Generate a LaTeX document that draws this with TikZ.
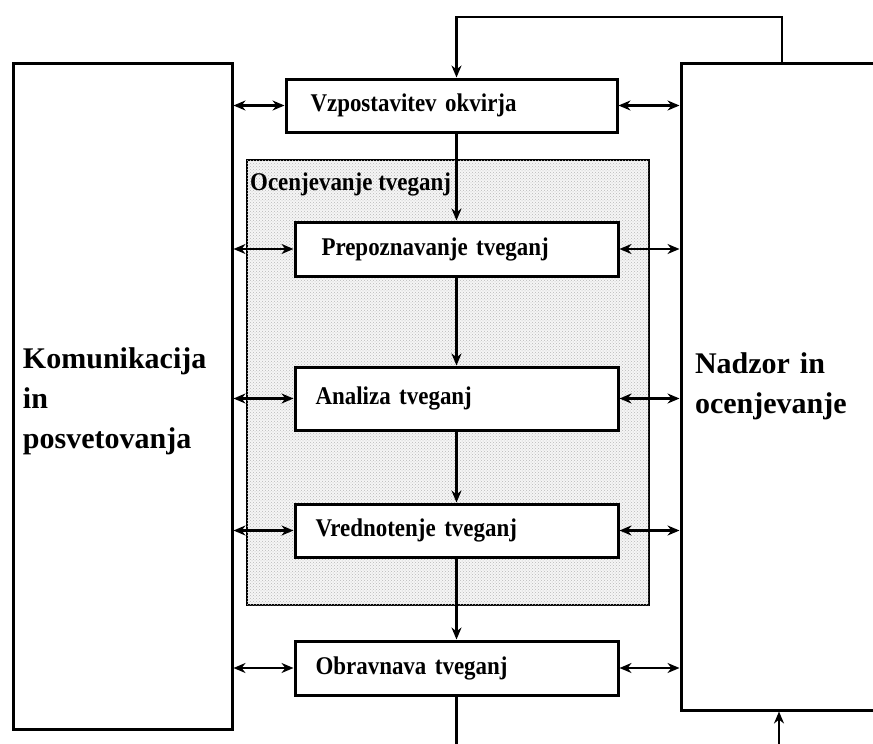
\documentclass[tikz,border=0pt]{standalone}
\usepackage{fontspec}
\setmainfont{Liberation Serif}
\newfontfamily\ozkafont[FakeStretch=0.9]{Liberation Serif}
\usetikzlibrary{arrows.meta, positioning, patterns}

\begin{document}
\begin{tikzpicture}[x=1pt, y=-1pt, >={Stealth[length=12pt,width=10pt]},
    vez/.style={line width=2.4pt},
    stran/.style={draw, line width=3pt, align=left, inner sep=0pt, font=\fontsize{30}{40}\selectfont\bfseries},
    korak/.style={draw, line width=3pt, fill=white, minimum width=323pt, minimum height=54pt,
                  text width=282pt, align=left, inner sep=0pt, font=\ozkafont\fontsize{25.5}{28}\selectfont\bfseries}]

      \clip (0,0) rectangle (873,744);

      % ocenjevanje (sivo polje)
      \draw[line width=2.6pt, fill=gray!8, postaction={pattern=crosshatch dots, pattern color=gray!55}]
            (247,160) rectangle (649,605);
      \node[anchor=base west, inner sep=0pt, font=\ozkafont\fontsize{25.5}{28}\selectfont\bfseries] (ocen) at (250,190) {Ocenjevanje tveganj};

      \node[stran, minimum width=219pt, minimum height=666pt, text width=199pt] (komun) at (122.5,396) {\rule{0pt}{31pt}Komunikacija\\in\\posvetovanja};
      \node[stran, minimum width=199pt, minimum height=647pt, text width=171pt] (nadzor) at (780.5,386.5) {Nadzor in\\ocenjevanje};

      \node[korak, minimum width=331pt, minimum height=53pt] (okvir) at (451.5,105.5) {Vzpostavitev okvirja};
      \node[korak] (prepoz) at (456.5,249) {\hspace*{6pt}Prepoznavanje tveganj};
      \node[korak, minimum height=63pt] (analiza) [below=88pt of prepoz] {Analiza tveganj};
      \node[korak, minimum height=53pt] (vredn) [below=71pt of analiza] {Vrednotenje tveganj};
      \node[korak] (obrav) [below=81pt of vredn] {Obravnava tveganj};

      \coordinate (obrat) at (782,17);
      \coordinate (dno) at (456.5,750);
      \coordinate (dnoR) at (779,750);

      \path[->, vez]
      (okvir.south -| prepoz.north) edge (prepoz.north)
      (prepoz) edge (analiza)
      (analiza) edge (vredn)
      (vredn) edge (obrav)
      (dnoR) edge (dnoR |- nadzor.south)
      ;

      \path[<->, vez]
      (komun.east |- okvir) edge (okvir.west)
      (okvir.east) edge (nadzor.west |- okvir)
      (komun.east |- prepoz) edge (prepoz.west)
      (prepoz.east) edge (nadzor.west |- prepoz)
      (komun.east |- analiza) edge (analiza.west)
      (analiza.east) edge (nadzor.west |- analiza)
      (komun.east |- vredn) edge (vredn.west)
      (vredn.east) edge (nadzor.west |- vredn)
      (komun.east |- obrav) edge (obrav.west)
      (obrav.east) edge (nadzor.west |- obrav)
      ;

      % povratna zanka
      \draw[->, line width=2.8pt] (obrat |- nadzor.north) -- (obrat) -| (okvir.north -| prepoz.north);
      \draw[line width=2.8pt] (obrav.south) -- (dno);
\end{tikzpicture}
\end{document}
